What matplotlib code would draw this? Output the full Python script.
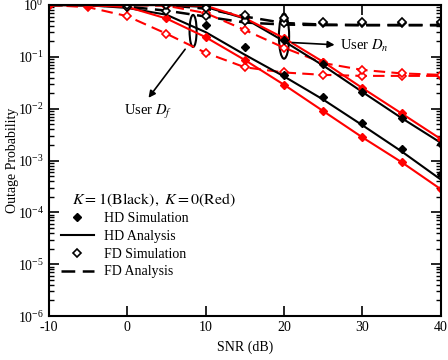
import matplotlib
matplotlib.use("Agg")
import matplotlib.pyplot as plt
from matplotlib.patches import Ellipse
from matplotlib.lines import Line2D
import numpy as np

plt.rcParams['font.family'] = ['Liberation Serif', 'DejaVu Serif']
plt.rcParams['mathtext.fontset'] = 'stix'
plt.rcParams['font.size'] = 10
plt.rcParams['axes.unicode_minus'] = False

# ==========================================
# DATA
# ==========================================
snr = [-10, -5, 0, 5, 10, 15, 20, 25, 30, 35, 40]

# HD analysis
hd_k1_df = [1.0, 0.99, 0.88, 0.65, 0.30, 0.11, 0.042, 0.015, 0.0048, 0.0015, 0.00043]
hd_k1_dn = [1.0, 1.0, 1.0, 1.0, 0.92, 0.55, 0.20, 0.068, 0.021, 0.0066, 0.0022]
hd_k0_df = [1.0, 0.99, 0.92, 0.55, 0.24, 0.087, 0.029, 0.009, 0.0028, 0.00093, 0.00028]
hd_k0_dn = [1.0, 1.0, 1.0, 1.0, 0.97, 0.56, 0.23, 0.08, 0.025, 0.0081, 0.0026]

# HD simulation, K=1 (black filled diamonds)
sim_hd_k1_snr = [10, 15, 20, 25, 30, 35, 40]
sim_hd_k1_df = [0.41, 0.155, 0.045, 0.017, 0.0053, 0.0017, 0.00055]
sim_hd_k1_dn = [0.95, 0.60, 0.21, 0.072, 0.021, 0.0066, 0.0021]

# FD analysis
fd_k1_df = [1.0, 0.99, 0.93, 0.78, 0.60, 0.46, 0.42, 0.41, 0.41, 0.41, 0.41]
fd_k1_dn = [1.0, 1.0, 1.0, 1.0, 0.85, 0.60, 0.45, 0.42, 0.41, 0.41, 0.41]
fd_k0_df = [1.0, 0.91, 0.61, 0.28, 0.12, 0.063, 0.05, 0.045, 0.043, 0.043, 0.043]
fd_k0_dn = [1.0, 1.0, 1.0, 0.97, 0.70, 0.33, 0.15, 0.076, 0.056, 0.048, 0.045]

# FD simulation, K=1 (black open diamonds)
sim_fd_k1_snr = [0, 5, 10, 15, 20, 25, 30, 35, 40]
sim_fd_k1_df = [0.90, 0.77, 0.62, 0.50, 0.45, 0.45, 0.45, 0.45, 0.45]
sim_fd_k1_dn = [1.0, 1.0, 0.88, 0.64, 0.55, 0.47, 0.47, 0.47, 0.47]

# ==========================================
# PLOT
# ==========================================
fig = plt.figure(figsize=(4.48, 3.6), dpi=100)
ax = fig.add_axes([0.109, 0.122, 0.875, 0.864])
red = '#ff0000'
dash = (5.5, 3)

# FD analysis lines
ax.plot(snr, fd_k1_df, color='k', lw=1.8, dashes=dash)
ax.plot(snr, fd_k1_dn, color='k', lw=1.8, dashes=dash)
ax.plot(snr, fd_k0_df, color=red, lw=1.5, dashes=dash, marker='D', ms=4.5, mfc='white', mec=red, mew=1.2)
ax.plot(snr, fd_k0_dn, color=red, lw=1.5, dashes=dash, marker='D', ms=4.5, mfc='white', mec=red, mew=1.2)

# HD analysis lines
ax.plot(snr, hd_k1_df, color='k', lw=1.5)
ax.plot(snr, hd_k1_dn, color='k', lw=1.5)
ax.plot(snr, hd_k0_df, color=red, lw=1.5, marker='D', ms=4.5, mfc=red, mec=red)
ax.plot(snr, hd_k0_dn, color=red, lw=1.5, marker='D', ms=4.5, mfc=red, mec=red)

# simulation markers K=1
ax.plot(sim_hd_k1_snr, sim_hd_k1_df, 'D', color='k', ms=4.5, ls='none')
ax.plot(sim_hd_k1_snr, sim_hd_k1_dn, 'D', color='k', ms=4.5, ls='none')
ax.plot(sim_fd_k1_snr, sim_fd_k1_df, 'D', mfc='white', mec='k', ms=4.5, mew=1.2, ls='none')
ax.plot(sim_fd_k1_snr, sim_fd_k1_dn, 'D', mfc='white', mec='k', ms=4.5, mew=1.2, ls='none')

ax.set_yscale('log')
ax.set_xlim(-10, 40)
ax.set_ylim(1e-6, 1)
ax.set_xticks([-10, 0, 10, 20, 30, 40])
ax.set_xlabel('SNR (dB)', labelpad=5)
ax.set_ylabel('Outage Probability', labelpad=-1)
ax.tick_params(which='major', direction='in', length=7, width=1.2, top=True, right=True, labelsize=10)
ax.tick_params(which='minor', direction='in', length=3.5, width=1, top=True, right=True)
for s in ax.spines.values():
    s.set_linewidth(1.5)

# ellipses (drawn in axes fraction so they stay elliptic on log axis)
def frac(x, y):
    return ((x + 10) / 50.0, (np.log10(y) + 6) / 6.0)

ax.add_patch(Ellipse(frac(8.4, 10 ** -0.5), 0.018, 0.103, transform=ax.transAxes,
                     fill=False, ec='k', lw=1.5))
ax.add_patch(Ellipse(frac(20, 10 ** -0.6), 0.026, 0.145, transform=ax.transAxes,
                     fill=False, ec='k', lw=1.5))

ax.annotate('', xy=(2.5, 0.0147), xytext=(7.6, 0.155),
            arrowprops=dict(arrowstyle='-|>', color='k', lw=1.2, mutation_scale=10))
ax.text(2.7, 0.0085, 'User $D_f$', ha='center', va='center', fontsize=10.5)
ax.annotate('', xy=(26.8, 0.17), xytext=(20.7, 0.19),
            arrowprops=dict(arrowstyle='-|>', color='k', lw=1.2, mutation_scale=10))
ax.text(27.1, 0.16, 'User $D_n$', ha='left', va='center', fontsize=10.5)

# legend
ax.text(0.06, 0.372, r'$K=1\left(\mathrm{Black}\right),\ K=0\left(\mathrm{Red}\right)$',
        transform=ax.transAxes, ha='left', va='center', fontsize=11.5)
handles = [
    Line2D([], [], ls='none', marker='D', color='k', ms=4.5),
    Line2D([], [], color='k', lw=1.5),
    Line2D([], [], ls='none', marker='D', mfc='white', mec='k', ms=4.5, mew=1.2),
    Line2D([], [], color='k', lw=1.8, dashes=dash),
]
labels = ['HD Simulation', 'HD Analysis', 'FD Simulation', 'FD Analysis']
ax.legend(handles, labels, loc='upper left', bbox_to_anchor=(0.03, 0.335), frameon=False,
          fontsize=10, handlelength=2.4, handletextpad=0.7, labelspacing=0.35,
          borderaxespad=0, borderpad=0)

fig.savefig('out.png', dpi=100)
